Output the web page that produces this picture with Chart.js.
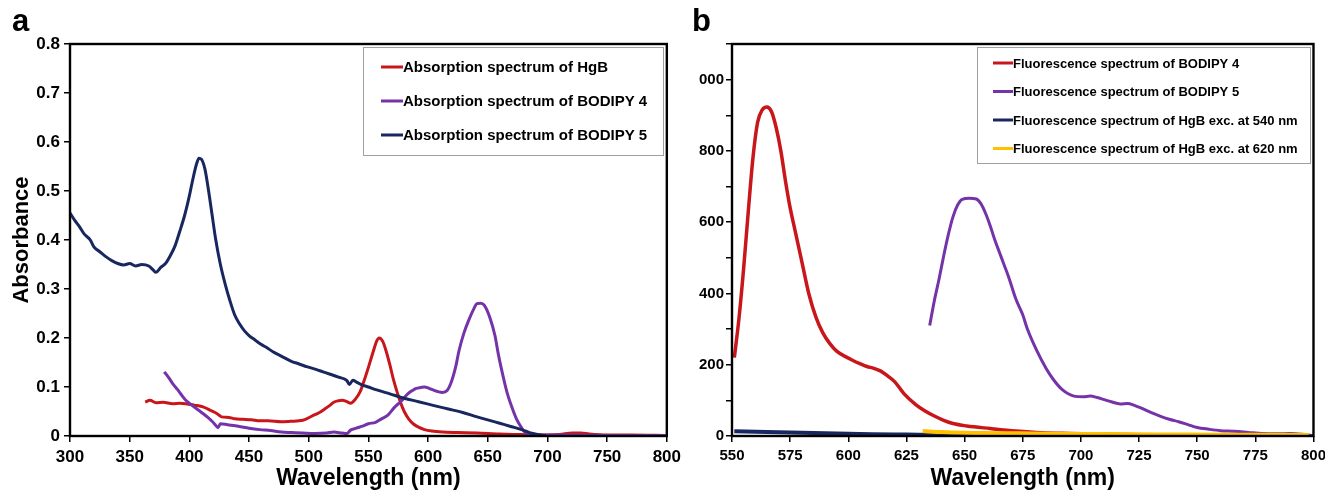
<!DOCTYPE html>
<html>
<head>
<meta charset="utf-8">
<script src="https://cdn.jsdelivr.net/npm/chart.js@4.4.1/dist/chart.umd.min.js"></script>
<style>
    body {
        margin: 0;
        background: #fff;
        width: 1325px;
        height: 492px;
        overflow: hidden;
        position: relative;
        font-family: "Liberation Sans", Arial, sans-serif;
    }
    .panel { position: absolute; top: 0; height: 492px; }
    #wrapA { left: 0; width: 686px; }
    #wrapB { left: 699px; width: 632px; }
    .tag {
        position: absolute;
        top: 3px;
        font-weight: bold;
        font-size: 31px;
        z-index: 2;
    }
</style>
</head>
<body>
<div class="panel" id="wrapA"><canvas id="chartA"></canvas></div>
<div class="panel" id="wrapB"><canvas id="chartB"></canvas></div>
<div class="tag" style="left:12px">a</div>
<div class="tag" style="left:692px">b</div>

<script>
// ---- panel a: absorption ----
const absHgbNm = [363, 367, 372, 378, 386, 392, 397, 404, 412, 418, 423, 427, 433, 438, 445, 452, 459, 466, 477, 485, 495, 503, 509, 514, 518, 521, 525, 528, 532, 535, 539, 543, 546, 550, 554, 557, 559, 562, 565, 568, 571, 574, 577, 580, 584, 588, 592, 597, 603, 612, 625, 641, 660, 677, 695, 710, 721, 728, 735, 750, 770, 800];
const absHgbVal = [0.069, 0.073, 0.068, 0.069, 0.066, 0.067, 0.066, 0.063, 0.059, 0.052, 0.046, 0.039, 0.038, 0.035, 0.034, 0.033, 0.031, 0.031, 0.029, 0.030, 0.032, 0.041, 0.048, 0.056, 0.063, 0.069, 0.072, 0.073, 0.070, 0.067, 0.075, 0.090, 0.110, 0.140, 0.172, 0.194, 0.200, 0.193, 0.172, 0.145, 0.115, 0.090, 0.068, 0.050, 0.034, 0.024, 0.018, 0.013, 0.010, 0.008, 0.007, 0.006, 0.004, 0.003, 0.002, 0.003, 0.006, 0.006, 0.004, 0.002, 0.002, 0.001];

const absB4Nm = [379, 383, 386, 390, 394, 397, 402, 408, 412, 415, 419, 422, 424, 426, 432, 441, 450, 459, 468, 477, 486, 495, 505, 515, 521, 528, 532, 535, 540, 545, 550, 556, 561, 566, 572, 577, 583, 587, 590, 594, 597, 601, 605, 609, 612, 616, 619, 623, 626, 630, 634, 638, 641, 644, 647, 652, 656, 659, 663, 666, 670, 674, 678, 681, 686, 695, 720, 760, 800];
const absB4Val = [0.131, 0.118, 0.107, 0.095, 0.082, 0.073, 0.063, 0.052, 0.045, 0.039, 0.030, 0.022, 0.017, 0.025, 0.023, 0.020, 0.016, 0.013, 0.011, 0.008, 0.007, 0.006, 0.005, 0.006, 0.008, 0.006, 0.005, 0.012, 0.016, 0.020, 0.025, 0.028, 0.035, 0.042, 0.059, 0.070, 0.086, 0.093, 0.097, 0.099, 0.100, 0.097, 0.093, 0.090, 0.089, 0.093, 0.107, 0.140, 0.175, 0.210, 0.236, 0.258, 0.270, 0.271, 0.267, 0.240, 0.205, 0.165, 0.120, 0.090, 0.060, 0.035, 0.018, 0.008, 0.004, 0.002, 0.002, 0.001, 0.001];

const absB5Nm = [300, 304, 308, 312, 317, 320, 325, 330, 335, 340, 345, 350, 355, 360, 366, 370, 372, 376, 380, 384, 388, 392, 396, 400, 403, 406, 408, 410, 413, 416, 419, 422, 426, 430, 434, 438, 442, 446, 450, 455, 460, 465, 470, 477, 485, 492, 499, 506, 512, 518, 525, 532, 534, 537, 540, 545, 550, 557, 568, 580, 592, 605, 617, 629, 641, 650, 660, 670, 677, 685, 692, 699];
const absB5Val = [0.455, 0.440, 0.427, 0.412, 0.400, 0.386, 0.376, 0.366, 0.358, 0.352, 0.349, 0.352, 0.347, 0.350, 0.347, 0.338, 0.334, 0.344, 0.352, 0.368, 0.388, 0.418, 0.450, 0.490, 0.525, 0.555, 0.567, 0.565, 0.545, 0.502, 0.452, 0.402, 0.350, 0.310, 0.276, 0.247, 0.229, 0.215, 0.205, 0.196, 0.187, 0.180, 0.172, 0.163, 0.153, 0.147, 0.141, 0.136, 0.131, 0.126, 0.120, 0.113, 0.105, 0.114, 0.110, 0.104, 0.100, 0.094, 0.086, 0.077, 0.070, 0.062, 0.055, 0.048, 0.039, 0.033, 0.026, 0.019, 0.014, 0.007, 0.003, 0.000];

const absLabels = ["Absorption spectrum of HgB", "Absorption spectrum of BODIPY 4", "Absorption spectrum of BODIPY 5"];

// ---- panel b: fluorescence ----
const flB4Nm = [551, 553, 555, 557, 559, 561, 563, 565, 567, 569, 571, 573, 575, 577, 580, 583, 586, 589, 592, 595, 599, 602, 605, 608, 611, 614, 617, 620, 624, 629, 633, 637, 641, 645, 651, 661, 672, 683, 695, 713, 730, 760, 800];
const flB4Val = [220, 330, 470, 630, 780, 880, 915, 923, 910, 865, 800, 715, 640, 580, 490, 400, 335, 290, 260, 238, 222, 212, 203, 195, 190, 182, 168, 152, 118, 88, 70, 56, 44, 35, 28, 21, 14, 9, 7, 5, 3, 2, 1];

const flB5Nm = [635, 637, 639, 641, 643, 645, 647, 649, 652, 655, 657, 659, 661, 663, 665, 667, 669, 672, 675, 677, 681, 685, 688, 692, 697, 701, 704, 707, 710, 713, 717, 720, 723, 726, 730, 734, 738, 742, 746, 750, 755, 760, 766, 772, 778, 784, 790, 795, 800];
const flB5Val = [310, 380, 440, 505, 565, 615, 648, 664, 667, 665, 652, 625, 590, 550, 515, 480, 445, 385, 340, 300, 240, 190, 160, 130, 112, 110, 112, 108, 102, 96, 90, 91, 86, 78, 66, 56, 47, 40, 32, 24, 19, 15, 13, 10, 7, 6, 7, 5, 1];

const flHgb540Nm = [551, 565, 580, 595, 610, 625, 640, 660, 680, 700];
const flHgb540Val = [13, 11, 9, 7, 5, 4, 3, 2, 1, 1];

const flHgb620Nm = [632, 640, 650, 665, 686, 705, 722, 740, 757, 780, 798];
const flHgb620Val = [14, 11, 9, 8, 6.5, 5.5, 4.7, 4.2, 3.7, 3.2, 2.8];

const flLabels = ["Fluorescence spectrum of BODIPY 4", "Fluorescence spectrum of BODIPY 5", "Fluorescence spectrum of HgB exc. at 540 nm", "Fluorescence spectrum of HgB exc. at 620 nm"];

const RED = "#c8161a";
const PURPLE = "#7433a8";
const NAVY = "#18275f";
const YELLOW = "#ffc000";

const FONT = '"Liberation Sans", Arial, sans-serif';
Chart.defaults.font.family = FONT;
Chart.defaults.color = "#000";

function pts(xs, ys) {
    return xs.map((x, i) => ({ x: x, y: ys[i] }));
}

function line(label, xs, ys, color, width) {
    return {
        label: label,
        data: pts(xs, ys),
        borderColor: color,
        backgroundColor: color,
        borderWidth: width,
        pointRadius: 0,
        tension: 0.4,
        cubicInterpolationMode: "monotone",
    };
}

// black box around the plot area
const frame = {
    id: "frame",
    afterDraw(chart) {
        const a = chart.chartArea;
        const ctx = chart.ctx;
        ctx.save();
        ctx.strokeStyle = "#000";
        ctx.lineWidth = 2.4;
        ctx.strokeRect(a.left, a.top, a.right - a.left, a.bottom - a.top);
        ctx.restore();
    },
};

// legend drawn as a boxed list inside the plot
const boxLegend = {
    id: "boxLegend",
    afterDatasetsDraw(chart, args, o) {
        const ctx = chart.ctx;
        ctx.save();
        ctx.fillStyle = "#fff";
        ctx.fillRect(o.x, o.y, o.w, o.h);
        ctx.strokeStyle = "#a0a0a0";
        ctx.lineWidth = 1;
        ctx.strokeRect(o.x + 0.5, o.y + 0.5, o.w, o.h);
        ctx.font = "bold " + o.size + "px " + FONT;
        ctx.textBaseline = "middle";
        chart.data.datasets.forEach((ds, i) => {
            const cy = o.first + i * o.gap;
            ctx.strokeStyle = ds.borderColor;
            ctx.lineWidth = 3;
            ctx.beginPath();
            ctx.moveTo(o.lineX, cy);
            ctx.lineTo(o.lineX + o.lineW, cy);
            ctx.stroke();
            ctx.fillStyle = "#000";
            ctx.fillText(ds.label, o.lineX + o.lineW, cy + 1);
        });
        ctx.restore();
    },
};

const tickGrid = {
    drawOnChartArea: false,
    drawTicks: true,
    tickLength: 6,
    color: "#000",
    lineWidth: 1.5,
};

new Chart(document.getElementById("chartA"), {
    type: "line",
    data: {
        datasets: [
            line(absLabels[0], absHgbNm, absHgbVal, RED, 3),
            line(absLabels[1], absB4Nm, absB4Val, PURPLE, 3),
            line(absLabels[2], absB5Nm, absB5Val, NAVY, 3),
        ].map((d, i) => Object.assign(d, { order: 2 - i })),
    },
    options: {
        responsive: true,
        maintainAspectRatio: false,
        animation: false,
        layout: { padding: { top: 44, right: 8, bottom: 0, left: 0 } },
        plugins: {
            legend: { display: false },
            tooltip: { enabled: false },
            boxLegend: { x: 363, y: 47, w: 300, h: 108, first: 67, gap: 34, lineX: 381, lineW: 22, size: 15 },
        },
        scales: {
            x: {
                type: "linear",
                min: 300,
                max: 800,
                ticks: { stepSize: 50, padding: 5, font: { size: 17, weight: "bold" }, maxRotation: 0 },
                grid: tickGrid,
                border: { display: false },
                title: { display: true, text: "Wavelength (nm)", font: { size: 23, weight: "bold" }, padding: { top: 0, bottom: 0 } },
                afterFit(s) { s.height = 56; },
            },
            y: {
                min: 0,
                max: 0.8,
                ticks: { stepSize: 0.1, padding: 4, font: { size: 17, weight: "bold" } },
                grid: tickGrid,
                border: { display: false },
                title: { display: true, text: "Absorbance", font: { size: 22, weight: "bold" }, padding: { top: 9, bottom: 0 } },
                afterFit(s) { s.width = 70; },
            },
        },
    },
    plugins: [boxLegend, frame],
});

new Chart(document.getElementById("chartB"), {
    type: "line",
    data: {
        datasets: [
            line(flLabels[0], flB4Nm, flB4Val, RED, 3.5),
            line(flLabels[1], flB5Nm, flB5Val, PURPLE, 3),
            line(flLabels[2], flHgb540Nm, flHgb540Val, NAVY, 4),
            line(flLabels[3], flHgb620Nm, flHgb620Val, YELLOW, 4),
        ].map((d, i) => Object.assign(d, { order: 3 - i })),
    },
    options: {
        responsive: true,
        maintainAspectRatio: false,
        animation: false,
        layout: { padding: { top: 44, right: 6, bottom: 0, left: 0 } },
        plugins: {
            legend: { display: false },
            tooltip: { enabled: false },
            boxLegend: { x: 278, y: 47, w: 333, h: 116, first: 63, gap: 28.5, lineX: 294, lineW: 20, size: 13 },
        },
        scales: {
            x: {
                type: "linear",
                min: 550,
                max: 800,
                ticks: { stepSize: 25, padding: 5, font: { size: 15, weight: "bold" }, maxRotation: 0 },
                grid: tickGrid,
                border: { display: false },
                title: { display: true, text: "Wavelength (nm)", font: { size: 23, weight: "bold" }, padding: { top: 0, bottom: 0 } },
                afterFit(s) { s.height = 56; },
            },
            y: {
                min: 0,
                max: 1100,
                ticks: {
                    stepSize: 100,
                    padding: 2,
                    font: { size: 15, weight: "bold" },
                    callback: (v) => (v % 200 === 0 ? String(v) : ""),
                },
                grid: tickGrid,
                border: { display: false },
                afterFit(s) { s.width = 33; },
            },
        },
    },
    plugins: [boxLegend, frame],
});
</script>
</body>
</html>
